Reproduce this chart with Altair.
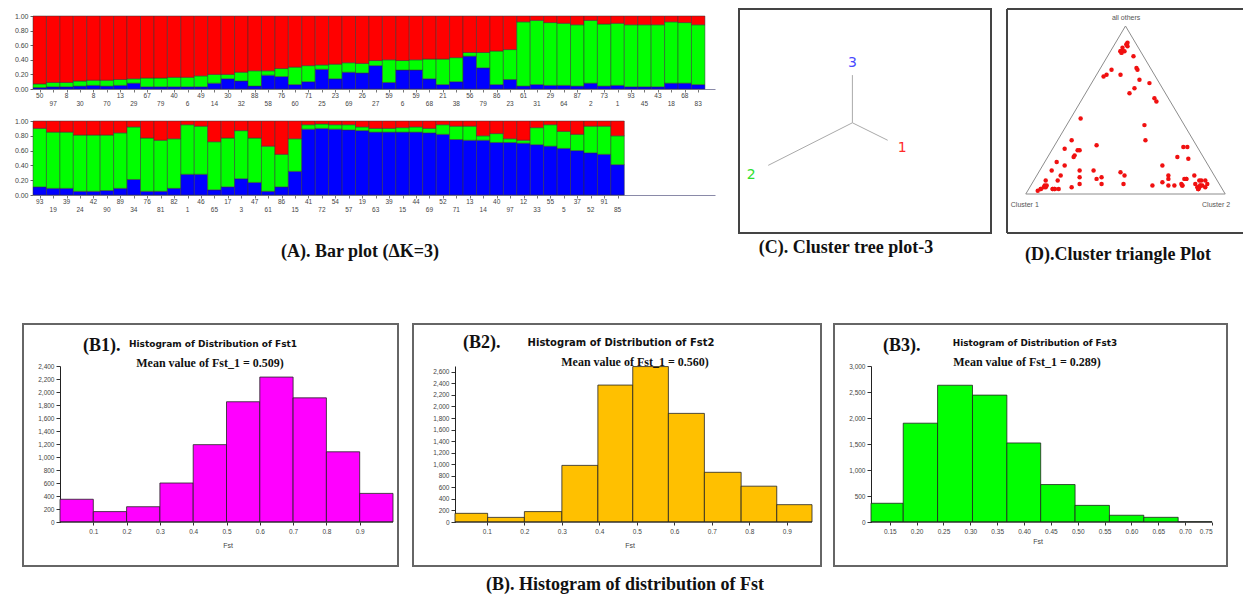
import altair as alt
import pandas as pd

# ---------------- data ----------------
cluster_ids = ["1", "2", "3"]
cluster_colors = ["#ff0000", "#00ff00", "#0000ff"]

top_labels = ["50","97","8","30","8","70","13","29","67","79","40","6","49","14","30","32","88","58","76","60",
              "71","25","23","69","26","27","59","6","59","68","21","38","56","79","86","23","61","31","29","64",
              "87","2","73","1","93","45","43","18","68","83"]
top_blue = [0.02,0.03,0.03,0.04,0.05,0.04,0.05,0.08,0.03,0.03,0.03,0.03,0.03,0.08,0.14,0.11,0.04,0.19,0.17,0.06,
            0.10,0.27,0.14,0.23,0.22,0.32,0.09,0.26,0.26,0.14,0.06,0.10,0.45,0.29,0.06,0.13,0.04,0.06,0.05,0.05,
            0.04,0.08,0.04,0.05,0.03,0.03,0.03,0.08,0.08,0.06]
top_green = [0.05,0.06,0.06,0.07,0.07,0.08,0.08,0.06,0.12,0.12,0.13,0.13,0.15,0.12,0.06,0.12,0.21,0.06,0.11,0.24,
             0.22,0.06,0.20,0.13,0.13,0.07,0.31,0.13,0.14,0.27,0.35,0.33,0.05,0.21,0.46,0.41,0.88,0.88,0.86,0.85,
             0.84,0.86,0.85,0.85,0.85,0.85,0.85,0.84,0.83,0.82]

bot_labels = ["93","19","39","24","42","90","89","34","76","81","82","1","46","65","17","3","47","61","86","15",
              "41","72","54","57","19","63","39","15","44","69","52","71","13","14","40","97","12","33","55","5",
              "37","52","91","85"]
bot_blue = [0.11,0.09,0.09,0.05,0.05,0.06,0.09,0.21,0.05,0.05,0.09,0.28,0.28,0.07,0.11,0.22,0.17,0.05,0.11,0.32,
            0.89,0.90,0.89,0.88,0.87,0.85,0.85,0.85,0.85,0.84,0.82,0.75,0.74,0.74,0.71,0.71,0.70,0.68,0.66,0.63,
            0.60,0.57,0.55,0.41]
bot_green = [0.79,0.76,0.76,0.76,0.76,0.75,0.75,0.71,0.72,0.69,0.67,0.67,0.65,0.65,0.66,0.65,0.60,0.61,0.44,0.44,
             0.06,0.06,0.06,0.07,0.05,0.05,0.05,0.06,0.07,0.06,0.13,0.18,0.19,0.06,0.12,0.05,0.04,0.23,0.29,0.23,
             0.22,0.36,0.38,0.39]

b1_edges = [0.0,0.1,0.2,0.3,0.4,0.5,0.6,0.7,0.8,0.9,1.0]
b1_counts = [350,160,235,600,1190,1850,2230,1910,1080,440]
b2_edges = [0.015,0.102,0.2,0.3,0.396,0.489,0.584,0.68,0.778,0.873,0.967]
b2_counts = [150,80,180,980,2370,2690,1880,860,620,300]
b3_edges = [0.115,0.175,0.239,0.304,0.368,0.431,0.495,0.559,0.623,0.687,0.75]
b3_counts = [360,1900,2630,2440,1520,720,320,130,90,5]

# cluster tree (coordinates normalised to the framed box)
tree_center = (0.450, 0.492)
tree_tips_x = [0.590, 0.116, 0.450]
tree_tips_y = [0.414, 0.302, 0.705]
tree_lab_text = ["1", "2", "3"]
tree_lab_x = [0.648, 0.048, 0.450]
tree_lab_y = [0.378, 0.259, 0.760]
tree_lab_color = ["#ff2a2a", "#2ee02e", "#4a4aff"]

# triangle corners (Cluster 1, Cluster 2, all others)
tri_x = [0.0, 1.0, 0.5, 0.0]
tri_y = [0.0, 0.0, 1.0, 0.0]
tri_lab_text = ["all others", "Cluster 1", "Cluster 2"]
tri_lab_x = [0.503, -0.005, 0.954]
tri_lab_y = [1.05, -0.065, -0.065]

one = pd.DataFrame({"k": [0]})
SERIF = "Liberation Serif"
SANS = "Liberation Sans"


def txt(s, x, y, size, font=SERIF, weight="bold", align="center", color="#111"):
    return alt.Chart(pd.DataFrame({"t": [s]})).mark_text(
        fontSize=size, font=font, fontWeight=weight, align=align, baseline="middle", color=color
    ).encode(x=alt.value(x), y=alt.value(y), text="t:N")


def box(x0, x1, y0, y1, color="#666", sw=2):
    return alt.Chart(one).mark_rect(fill="white", fillOpacity=0, stroke=color, strokeWidth=sw).encode(
        x=alt.value(x0), x2=alt.value(x1), y=alt.value(y0), y2=alt.value(y1))


def hline(x0, x1, y, color="#555", sw=2):
    return alt.Chart(one).mark_rule(color=color, strokeWidth=sw).encode(
        x=alt.value(x0), x2=alt.value(x1), y=alt.value(y))


def vline(x, y0, y1, color="#555", sw=2):
    return alt.Chart(one).mark_rule(color=color, strokeWidth=sw).encode(
        x=alt.value(x), y=alt.value(y0), y2=alt.value(y1))


color_scale = alt.Scale(domain=cluster_ids, range=cluster_colors)


def bar_panel(blue, green, labels, height, ytop, extra=None):
    rows = []
    for i, (b, g) in enumerate(zip(blue, green)):
        rows.append(dict(x0=i, x1=i + 1, cl="3", y0=0.0, y1=b))
        rows.append(dict(x0=i, x1=i + 1, cl="2", y0=b, y1=b + g))
        rows.append(dict(x0=i, x1=i + 1, cl="1", y0=b + g, y1=1.0))
    df = pd.DataFrame(rows)
    n = len(blue)
    xs = alt.Scale(domain=[0, 50.75], nice=False, zero=False)
    ys = alt.Scale(domain=[0, ytop], nice=False, zero=True)
    xax = alt.Axis(values=[i + 0.5 for i in range(n)], labels=False, tickSize=3, tickColor="#777",
                   domainColor="#8a8aa8", grid=False, title=None)
    yax = alt.Axis(values=[0, 0.2, 0.4, 0.6, 0.8, 1.0], format=".2f", labelFontSize=7, labelColor="#444",
                   tickSize=3, tickColor="#666", labelPadding=2, domain=False, grid=False, title=None)
    bars = alt.Chart(df).mark_rect(stroke="#333", strokeWidth=0.5).encode(
        x=alt.X("x0:Q", scale=xs, axis=xax), x2="x1:Q",
        y=alt.Y("y0:Q", scale=ys, axis=yax), y2="y1:Q",
        color=alt.Color("cl:N", scale=color_scale, legend=None),
    )
    lab = pd.DataFrame({"x0": [i + 0.5 for i in range(n)], "lab": labels, "r": [i % 2 for i in range(n)]})
    up = alt.Chart(lab).transform_filter("datum.r == 0").mark_text(fontSize=6.5, font=SANS, color="#444").encode(
        x=alt.X("x0:Q", scale=xs, axis=xax), y=alt.value(height + 7), text="lab:N")
    lo = alt.Chart(lab).transform_filter("datum.r == 1").mark_text(fontSize=6.5, font=SANS, color="#444").encode(
        x=alt.X("x0:Q", scale=xs, axis=xax), y=alt.value(height + 15), text="lab:N")
    layers = [bars, up, lo]
    if extra is not None:
        layers += extra
    return alt.layer(*layers).properties(width=682, height=height)


def hist_panel(edges, counts, color, xdom, vis, ymax, yvals, xvals, xfmt, width, boxx, texts, yoffset=0):
    df = pd.DataFrame({"a": edges[:-1], "b": edges[1:], "n": counts, "z": [0] * len(counts)})
    xs = alt.Scale(domain=xdom, nice=False, zero=False)
    ys = alt.Scale(domain=[0, ymax], nice=False)
    xax = alt.Axis(values=xvals, format=xfmt, domain=False, tickSize=3, tickColor="#333", labelFontSize=6.5,
                   labelColor="#444", labelFont=SANS, grid=False, title=None, labelPadding=3)
    yax = alt.Axis(values=yvals, format=",.0f", tickSize=4, tickColor="#333", labelFontSize=6.5,
                   labelColor="#444", labelFont=SANS, domainColor="#222", grid=False, title=None,
                   labelPadding=2, offset=yoffset)
    bars = alt.Chart(df).mark_rect(fill=color, stroke="#222", strokeWidth=0.8).encode(
        x=alt.X("a:Q", scale=xs, axis=xax), x2="b:Q",
        y=alt.Y("n:Q", scale=ys, axis=yax), y2="z:Q",
    )
    base = alt.Chart(pd.DataFrame({"a": [vis[0]], "b": [vis[1]], "n": [0]})).mark_rule(
        color="#222", strokeWidth=1).encode(x=alt.X("a:Q", scale=xs, axis=xax), x2="b:Q",
                                            y=alt.Y("n:Q", scale=ys, axis=yax))
    layers = [bars, base, box(boxx[0], boxx[1], -42, 200)] + texts
    return alt.layer(*layers).properties(width=width, height=156)


# ---------------- panels ----------------
A_top = bar_panel(top_blue, top_green, top_labels, 80, 80 / 73)
A_bot = bar_panel(bot_blue, bot_green, bot_labels, 74, 1.0,
                  extra=[txt("(A).  Bar plot (\u0394K=3)", 327, 131, 18)])

# cluster tree
cx = alt.Scale(domain=[0, 1], nice=False, zero=False)
cy = alt.Scale(domain=[0, 1], nice=False, zero=False)
tree_df = pd.DataFrame({"x": [tree_center[0]] * 3, "y": [tree_center[1]] * 3,
                        "x2": tree_tips_x, "y2": tree_tips_y})
tree_rules = alt.Chart(tree_df).mark_rule(color="#aaaaaa", strokeWidth=1).encode(
    x=alt.X("x:Q", scale=cx, axis=None), y=alt.Y("y:Q", scale=cy, axis=None), x2="x2:Q", y2="y2:Q")
tree_lab_df = pd.DataFrame({"t": tree_lab_text, "x": tree_lab_x, "y": tree_lab_y, "c": tree_lab_color})
tree_labs = alt.Chart(tree_lab_df).mark_text(fontSize=14, font="DejaVu Sans").encode(
    x=alt.X("x:Q", scale=cx, axis=None), y=alt.Y("y:Q", scale=cy, axis=None), text="t:N",
    color=alt.Color("c:N", scale=None))
C = alt.layer(tree_rules, tree_labs, box(0, 252, 0, 224, color="#444", sw=2),
              txt("(C). Cluster tree plot-3", 107, 239, 18)).properties(width=252, height=224)

# triangle plot
dx = alt.Scale(domain=[-0.0941, 1.0891], nice=False, zero=False)
dy = alt.Scale(domain=[-0.2321, 1.1012], nice=False, zero=False)
tri_df = pd.DataFrame({"x": tri_x, "y": tri_y, "o": list(range(len(tri_x)))})
tri = alt.Chart(tri_df).mark_line(color="#8c8c8c", strokeWidth=1).encode(
    x=alt.X("x:Q", scale=dx, axis=None), y=alt.Y("y:Q", scale=dy, axis=None), order="o:Q")
pts_df = pd.DataFrame({"g": top_green + bot_green, "b": top_blue + bot_blue})
pts = alt.Chart(pts_df).transform_calculate(px="datum.g + 0.5 * datum.b", py="datum.b").mark_circle(
    color="#f01010", size=20, opacity=1).encode(
    x=alt.X("px:Q", scale=dx, axis=None), y=alt.Y("py:Q", scale=dy, axis=None))
tri_lab_df = pd.DataFrame({"t": tri_lab_text, "x": tri_lab_x, "y": tri_lab_y})
tri_labs = alt.Chart(tri_lab_df).mark_text(fontSize=7, font=SANS, color="#555").encode(
    x=alt.X("x:Q", scale=dx, axis=None), y=alt.Y("y:Q", scale=dy, axis=None), text="t:N")
D = alt.layer(tri, pts, tri_labs,
              hline(0, 236, 0, color="#444"), vline(0, 0, 224, color="#444"), hline(0, 236, 224, color="#444"),
              txt("(D).Cluster triangle Plot", 111, 246, 18)).properties(width=236, height=224)

B1 = hist_panel(b1_edges, b1_counts, "#ff00ff", [-27 / 333, 1.0], [0.0, 1.0], 2400,
                list(range(0, 2401, 200)), [0.1, 0.2, 0.3, 0.4, 0.5, 0.6, 0.7, 0.8, 0.9], ".1f", 360, (-10, 365),
                [txt("(B1).", 50, -20, 18, align="left"),
                 txt("Histogram of Distribution of Fst1", 180, -22, 9, font="DejaVu Sans"),
                 txt("Mean value of Fst_1 = 0.509)", 177, -3, 12),
                 txt("Fst", 195, 180, 7, font=SANS, weight="normal", color="#444")],
                yoffset=-27)
B2 = hist_panel(b2_edges, b2_counts, "#ffc000", [0.015, 0.967], [0.015, 0.967], 2700,
                list(range(0, 2601, 200)), [0.1, 0.2, 0.3, 0.4, 0.5, 0.6, 0.7, 0.8, 0.9], ".1f", 357, (-42, 366),
                [txt("(B2).", 8, -23, 18, align="left"),
                 txt("Histogram of Distribution of Fst2", 166, -23, 10, font="DejaVu Sans"),
                 txt("Mean value of Fst_1 = 0.560)", 180, -4, 12),
                 txt("Fst", 175, 180, 7, font=SANS, weight="normal", color="#444"),
                 txt("(B). Histogram of distribution of Fst", 170, 219, 18)])
B3 = hist_panel(b3_edges, b3_counts, "#00ff00", [0.115, 0.75], [0.115, 0.75], 3000,
                list(range(0, 3001, 500)),
                [0.15, 0.2, 0.25, 0.3, 0.35, 0.4, 0.45, 0.5, 0.55, 0.6, 0.65, 0.7, 0.75], ".2f", 341, (-37, 356),
                [txt("(B3).", 12, -20, 18, align="left"),
                 txt("Histogram of Distribution of Fst3", 164, -23, 8.8, font="DejaVu Sans"),
                 txt("Mean value of Fst_1 = 0.289)", 156, -4, 12),
                 txt("Fst", 167, 176, 7, font=SANS, weight="normal", color="#444")])

A = alt.vconcat(A_top, A_bot, spacing=9)
CD = alt.hconcat(C, D, spacing=14)
row1 = alt.hconcat(A, CD, spacing=23)
row2 = alt.hconcat(alt.hconcat(B1, B2, spacing=13), B3, spacing=11)

chart = alt.vconcat(row1, row2, spacing=59).properties(
    padding={"left": 6, "top": 0, "right": 0, "bottom": 0}, background="white"
).configure_view(stroke=None).configure_axis(labelFont=SANS, grid=False)

chart.save("out.html", embed_options={"renderer": "svg", "actions": False})
